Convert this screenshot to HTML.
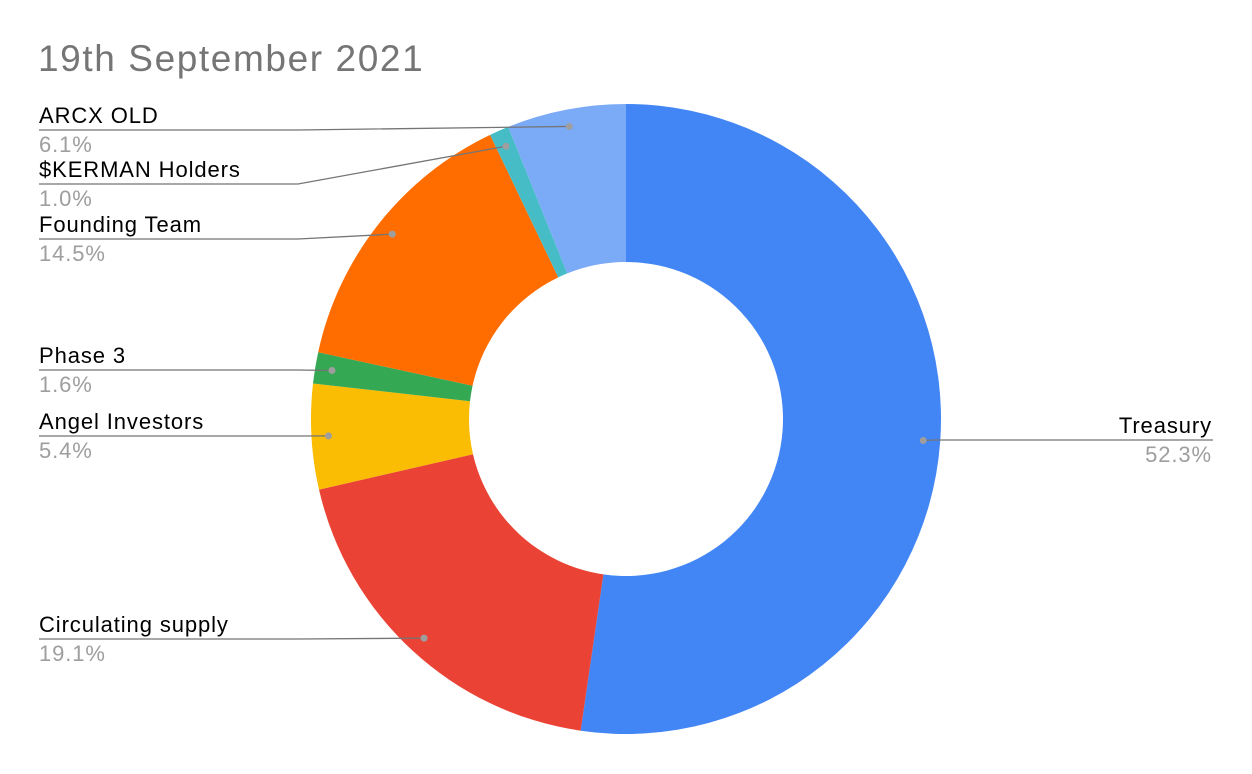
<!DOCTYPE html>
<html><head><meta charset="utf-8"><style>
body{margin:0;background:#fff;}
svg{display:block;font-family:"Liberation Sans",Arial,sans-serif;}
</style></head><body>
<svg width="1252" height="774" viewBox="0 0 1252 774">
<rect width="1252" height="774" fill="#fff"/>
<text x="38" y="71" font-size="37" letter-spacing="1.6" fill="#757575">19th September 2021</text>
<g id="slices"></g>
<g id="labels"></g>
</svg>
<script>
const categories=["Treasury","Circulating supply","Angel Investors","Phase 3","Founding Team","$KERMAN Holders","ARCX OLD"];
const values=[52.3,19.1,5.4,1.6,14.5,1.0,6.1];
const pctLabels=["52.3%","19.1%","5.4%","1.6%","14.5%","1.0%","6.1%"];
const colors=["#4285f4","#ea4335","#fbbc04","#34a853","#ff6d01","#46bdc6","#7baaf7"];
const labelY=[440,639,436,370,239,184,130];
const cx=626,cy=419,R=315,r=157,rd=298;
const NS="http://www.w3.org/2000/svg";
const gS=document.getElementById('slices'),gL=document.getElementById('labels');
const total=values.reduce((a,b)=>a+b,0);
function pt(rad,a){return [cx+rad*Math.sin(a),cy-rad*Math.cos(a)];}
let acc=0;
values.forEach((v,i)=>{
 const a0=acc/total*2*Math.PI; acc+=v; const a1=acc/total*2*Math.PI;
 const lg=(a1-a0)>Math.PI?1:0;
 const [x0,y0]=pt(R,a0),[x1,y1]=pt(R,a1),[x2,y2]=pt(r,a1),[x3,y3]=pt(r,a0);
 const p=document.createElementNS(NS,'path');
 p.setAttribute('d',`M${x0},${y0}A${R},${R} 0 ${lg} 1 ${x1},${y1}L${x2},${y2}A${r},${r} 0 ${lg} 0 ${x3},${y3}Z`);
 p.setAttribute('fill',colors[i]);
 
 
 gS.appendChild(p);
 const am=(a0+a1)/2; const [dx,dy]=pt(rd,am);
 const right=Math.sin(am)>0; const ly=labelY[i];
 const ex=right?1213:39, kx=right?935:298;
 const l=document.createElementNS(NS,'polyline');
 l.setAttribute('points',`${ex},${ly} ${kx},${ly} ${dx},${dy}`);
 l.setAttribute('fill','none');l.setAttribute('stroke','#757575');l.setAttribute('stroke-width','1.3');
 
 
 gL.appendChild(l);
 const c=document.createElementNS(NS,'circle');
 c.setAttribute('cx',dx);c.setAttribute('cy',dy);c.setAttribute('r',3.5);c.setAttribute('fill','#9e9e9e');
 
 
 gL.appendChild(c);
 const t=document.createElementNS(NS,'text');
 t.setAttribute('x',right?1212:39);t.setAttribute('y',ly-7);t.setAttribute('font-size','22');t.setAttribute('letter-spacing','0.9');t.setAttribute('fill','#000');
 if(right)t.setAttribute('text-anchor','end');
 t.textContent=categories[i];
 
 
 gL.appendChild(t);
 const t2=document.createElementNS(NS,'text');
 t2.setAttribute('x',right?1212:39);t2.setAttribute('y',ly+22);t2.setAttribute('font-size','22');t2.setAttribute('letter-spacing','0.9');t2.setAttribute('fill','#9e9e9e');
 if(right)t2.setAttribute('text-anchor','end');
 t2.textContent=pctLabels[i];
 
 
 gL.appendChild(t2);
});
</script>
</body></html>
